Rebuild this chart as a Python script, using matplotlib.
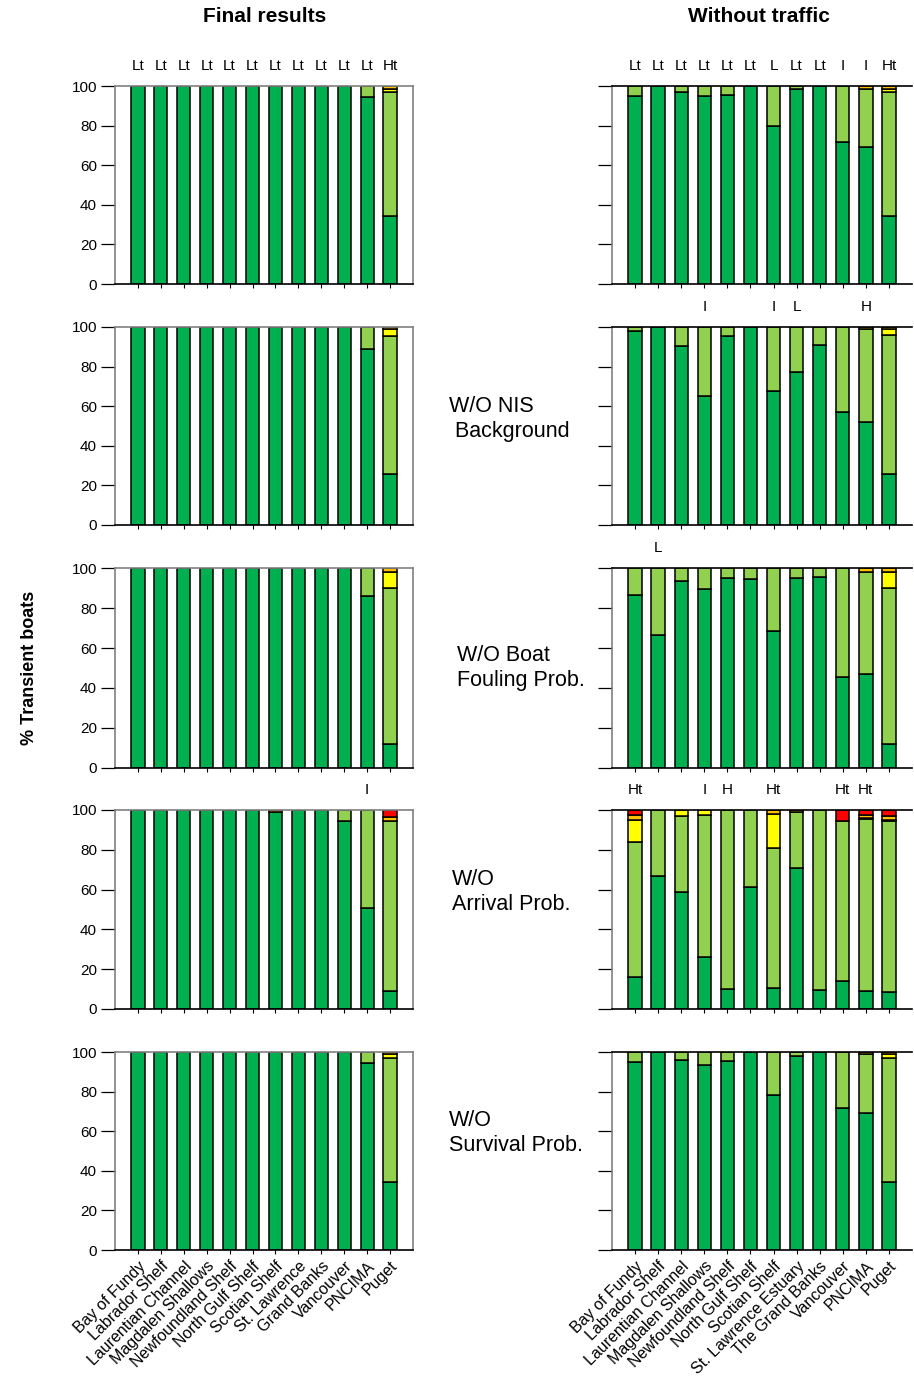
import matplotlib
matplotlib.use("Agg")
import matplotlib.pyplot as plt
import numpy as np

plt.rcParams["font.family"] = ["Liberation Sans", "DejaVu Sans"]

# categories (left column uses short names, right column the full names)
cats_left = ["Bay of Fundy", "Labrador Shelf", "Laurentian Channel", "Magdalen Shallows",
             "Newfoundland Shelf", "North Gulf Shelf", "Scotian Shelf", "St. Lawrence",
             "Grand Banks", "Vancouver", "PNCIMA", "Puget"]
cats_right = ["Bay of Fundy", "Labrador Shelf", "Laurentian Channel", "Magdalen Shallows",
              "Newfoundland Shelf", "North Gulf Shelf", "Scotian Shelf", "St. Lawrence Estuary",
              "The Grand Banks", "Vancouver", "PNCIMA", "Puget"]

seg_colors = ["#00B050", "#92D050", "#FFFF00", "#FFC000", "#FF0000"]

# ---- left column (with traffic), segment heights: dark green, light green, yellow, orange, red
final_dg = [100, 100, 100, 100, 100, 100, 100, 100, 100, 100, 94.3, 34.2]
final_lg = [0, 0, 0, 0, 0, 0, 0, 0, 0, 0, 5.7, 62.9]
final_ye = [0, 0, 0, 0, 0, 0, 0, 0, 0, 0, 0, 1.4]
final_or = [0, 0, 0, 0, 0, 0, 0, 0, 0, 0, 0, 1.5]
final_rd = [0] * 12

nis_dg = [100, 100, 100, 100, 100, 100, 100, 100, 100, 100, 89.1, 25.7]
nis_lg = [0, 0, 0, 0, 0, 0, 0, 0, 0, 0, 10.9, 69.9]
nis_ye = [0, 0, 0, 0, 0, 0, 0, 0, 0, 0, 0, 3.4]
nis_or = [0, 0, 0, 0, 0, 0, 0, 0, 0, 0, 0, 1.0]
nis_rd = [0] * 12

foul_dg = [100, 100, 100, 100, 100, 100, 100, 100, 100, 100, 85.9, 11.8]
foul_lg = [0, 0, 0, 0, 0, 0, 0, 0, 0, 0, 14.1, 78.3]
foul_ye = [0, 0, 0, 0, 0, 0, 0, 0, 0, 0, 0, 7.7]
foul_or = [0, 0, 0, 0, 0, 0, 0, 0, 0, 0, 0, 2.2]
foul_rd = [0] * 12

arr_dg = [100, 100, 100, 100, 100, 100, 99.2, 100, 100, 94.4, 51.0, 8.8]
arr_lg = [0, 0, 0, 0, 0, 0, 0, 0, 0, 5.6, 49.0, 85.6]
arr_ye = [0] * 12
arr_or = [0, 0, 0, 0, 0, 0, 0.8, 0, 0, 0, 0, 2.2]
arr_rd = [0, 0, 0, 0, 0, 0, 0, 0, 0, 0, 0, 3.4]

surv_dg = [100, 100, 100, 100, 100, 100, 100, 100, 100, 100, 94.4, 34.1]
surv_lg = [0, 0, 0, 0, 0, 0, 0, 0, 0, 0, 5.6, 63.0]
surv_ye = [0, 0, 0, 0, 0, 0, 0, 0, 0, 0, 0, 1.7]
surv_or = [0, 0, 0, 0, 0, 0, 0, 0, 0, 0, 0, 1.2]
surv_rd = [0] * 12

# ---- right column (without traffic)
nt_final_dg = [94.8, 100, 96.8, 94.8, 95.4, 100, 79.6, 98.3, 100, 71.7, 69.1, 34.2]
nt_final_lg = [5.2, 0, 3.2, 5.2, 4.6, 0, 20.4, 1.7, 0, 28.3, 29.6, 62.9]
nt_final_ye = [0, 0, 0, 0, 0, 0, 0, 0, 0, 0, 0, 1.4]
nt_final_or = [0, 0, 0, 0, 0, 0, 0, 0, 0, 0, 1.3, 1.5]
nt_final_rd = [0] * 12

nt_nis_dg = [97.8, 100, 90.4, 65.1, 95.6, 100, 67.6, 77.4, 91.1, 57.3, 51.9, 25.8]
nt_nis_lg = [2.2, 0, 9.6, 34.9, 4.4, 0, 32.4, 22.6, 8.9, 42.7, 47.1, 70.2]
nt_nis_ye = [0, 0, 0, 0, 0, 0, 0, 0, 0, 0, 0, 3.0]
nt_nis_or = [0, 0, 0, 0, 0, 0, 0, 0, 0, 0, 1.0, 1.0]
nt_nis_rd = [0] * 12

nt_foul_dg = [86.4, 66.7, 93.4, 89.7, 95.0, 94.5, 68.4, 94.8, 95.5, 45.7, 47.1, 11.8]
nt_foul_lg = [13.6, 33.3, 6.6, 10.3, 5.0, 5.5, 31.6, 5.2, 4.5, 54.3, 51.1, 78.3]
nt_foul_ye = [0, 0, 0, 0, 0, 0, 0, 0, 0, 0, 0, 7.7]
nt_foul_or = [0, 0, 0, 0, 0, 0, 0, 0, 0, 0, 1.8, 2.2]
nt_foul_rd = [0] * 12

nt_arr_dg = [16.0, 66.7, 59.0, 26.2, 9.8, 61.1, 10.8, 70.9, 9.3, 14.0, 9.0, 8.4]
nt_arr_lg = [68.0, 33.3, 38.1, 71.3, 90.2, 38.9, 70.1, 27.9, 90.7, 80.6, 86.4, 85.9]
nt_arr_ye = [10.9, 0, 2.9, 2.5, 0, 0, 17.2, 0, 0, 0, 0.6, 0.8]
nt_arr_or = [2.6, 0, 0, 0, 0, 0, 1.9, 1.2, 0, 0, 1.5, 2.0]
nt_arr_rd = [2.5, 0, 0, 0, 0, 0, 0, 0, 0, 5.4, 2.5, 2.9]

nt_surv_dg = [94.8, 100, 95.8, 93.6, 95.3, 100, 78.4, 97.8, 100, 71.5, 69.1, 34.1]
nt_surv_lg = [5.2, 0, 4.2, 6.4, 4.7, 0, 21.6, 2.2, 0, 28.5, 29.7, 63.0]
nt_surv_ye = [0, 0, 0, 0, 0, 0, 0, 0, 0, 0, 0, 1.7]
nt_surv_or = [0, 0, 0, 0, 0, 0, 0, 0, 0, 0, 1.2, 1.2]
nt_surv_rd = [0] * 12

# letters above the bars
lab_final = ["Lt"] * 11 + ["Ht"]
lab_arr = ["", "", "", "", "", "", "", "", "", "", "I", ""]
lab_nt_final = ["Lt", "Lt", "Lt", "Lt", "Lt", "Lt", "L", "Lt", "Lt", "I", "I", "Ht"]
lab_nt_nis = ["", "", "", "I", "", "", "I", "L", "", "", "H", ""]
lab_nt_foul = ["", "L", "", "", "", "", "", "", "", "", "", ""]
lab_nt_arr = ["Ht", "", "", "I", "H", "", "Ht", "", "", "Ht", "Ht", ""]

left_panels = [
    ([final_dg, final_lg, final_ye, final_or, final_rd], lab_final),
    ([nis_dg, nis_lg, nis_ye, nis_or, nis_rd], None),
    ([foul_dg, foul_lg, foul_ye, foul_or, foul_rd], None),
    ([arr_dg, arr_lg, arr_ye, arr_or, arr_rd], lab_arr),
    ([surv_dg, surv_lg, surv_ye, surv_or, surv_rd], None),
]
right_panels = [
    ([nt_final_dg, nt_final_lg, nt_final_ye, nt_final_or, nt_final_rd], lab_nt_final),
    ([nt_nis_dg, nt_nis_lg, nt_nis_ye, nt_nis_or, nt_nis_rd], lab_nt_nis),
    ([nt_foul_dg, nt_foul_lg, nt_foul_ye, nt_foul_or, nt_foul_rd], lab_nt_foul),
    ([nt_arr_dg, nt_arr_lg, nt_arr_ye, nt_arr_or, nt_arr_rd], lab_nt_arr),
    ([nt_surv_dg, nt_surv_lg, nt_surv_ye, nt_surv_or, nt_surv_rd], None),
]
middle_text = [None, "W/O NIS\n Background", "W/O Boat\nFouling Prob.", "W/O\nArrival Prob.",
               "W/O\nSurvival Prob."]
middle_x = [0, 449, 457, 452, 449]
middle_y = [0, 419, 668, 892, 1133]

W, H = 914, 1384
fig = plt.figure(figsize=(W / 100, H / 100), dpi=100)

tops = [86, 327, 568, 810, 1052]
bots = [284, 525, 768, 1009, 1250]


def draw_panel(ax, segs, labels, names, left_col, last):
    x = np.arange(12)
    bottom = np.zeros(12)
    for vals, col in zip(segs, seg_colors):
        vals = np.array(vals, dtype=float)
        ax.bar(x[vals > 0], vals[vals > 0], bottom=bottom[vals > 0], width=0.58,
               color=col, edgecolor="black", linewidth=1.1, zorder=2)
        bottom += vals
    ax.set_xlim(-1, 12)
    ax.set_ylim(0, 100)
    ax.set_yticks(range(0, 101, 20))
    ax.set_xticks(x)
    ax.tick_params(axis="x", direction="out", length=3, width=0.8, labelsize=11.5, pad=3)
    if left_col:
        ax.tick_params(axis="y", direction="out", length=10, width=0.9, labelsize=11, pad=3)
        for s in ["left", "right", "top"]:
            ax.spines[s].set_color("#808080")
    else:
        ax.tick_params(axis="y", direction="out", length=10, width=0.9, labelleft=False)
        ax.spines["left"].set_color("#808080")
        ax.spines["right"].set_visible(False)
    ax.spines["bottom"].set_color("black")
    for s in ax.spines.values():
        s.set_linewidth(1.2)
    if last:
        ax.set_xticklabels(names, rotation=45, ha="right", rotation_mode="anchor")
    else:
        ax.set_xticklabels([])
    if labels:
        for xi, t in zip(x, labels):
            if t:
                ax.text(xi, 110, t, ha="center", va="center", fontsize=11, clip_on=False)


for i in range(5):
    y0 = 1 - bots[i] / H
    h = (bots[i] - tops[i]) / H
    axl = fig.add_axes([115 / W, y0, 298 / W, h])
    draw_panel(axl, left_panels[i][0], left_panels[i][1], cats_left, True, i == 4)
    axr = fig.add_axes([612 / W, y0, 300 / W, h])
    draw_panel(axr, right_panels[i][0], right_panels[i][1], cats_right, False, i == 4)
    if middle_text[i]:
        fig.text(middle_x[i] / W, 1 - middle_y[i] / H, middle_text[i], ha="left",
                 va="center", fontsize=15.5, linespacing=1.25)

fig.text(265 / W, 1 - 17 / H, "Final results", ha="center", va="center",
         fontsize=15, fontweight="bold")
fig.text(759 / W, 1 - 17 / H, "Without traffic", ha="center", va="center",
         fontsize=15, fontweight="bold")
fig.text(30 / W, 1 - 668 / H, "% Transient boats", ha="center", va="center",
         rotation=90, fontsize=13, fontweight="bold")

fig.savefig("out.png", dpi=100)
